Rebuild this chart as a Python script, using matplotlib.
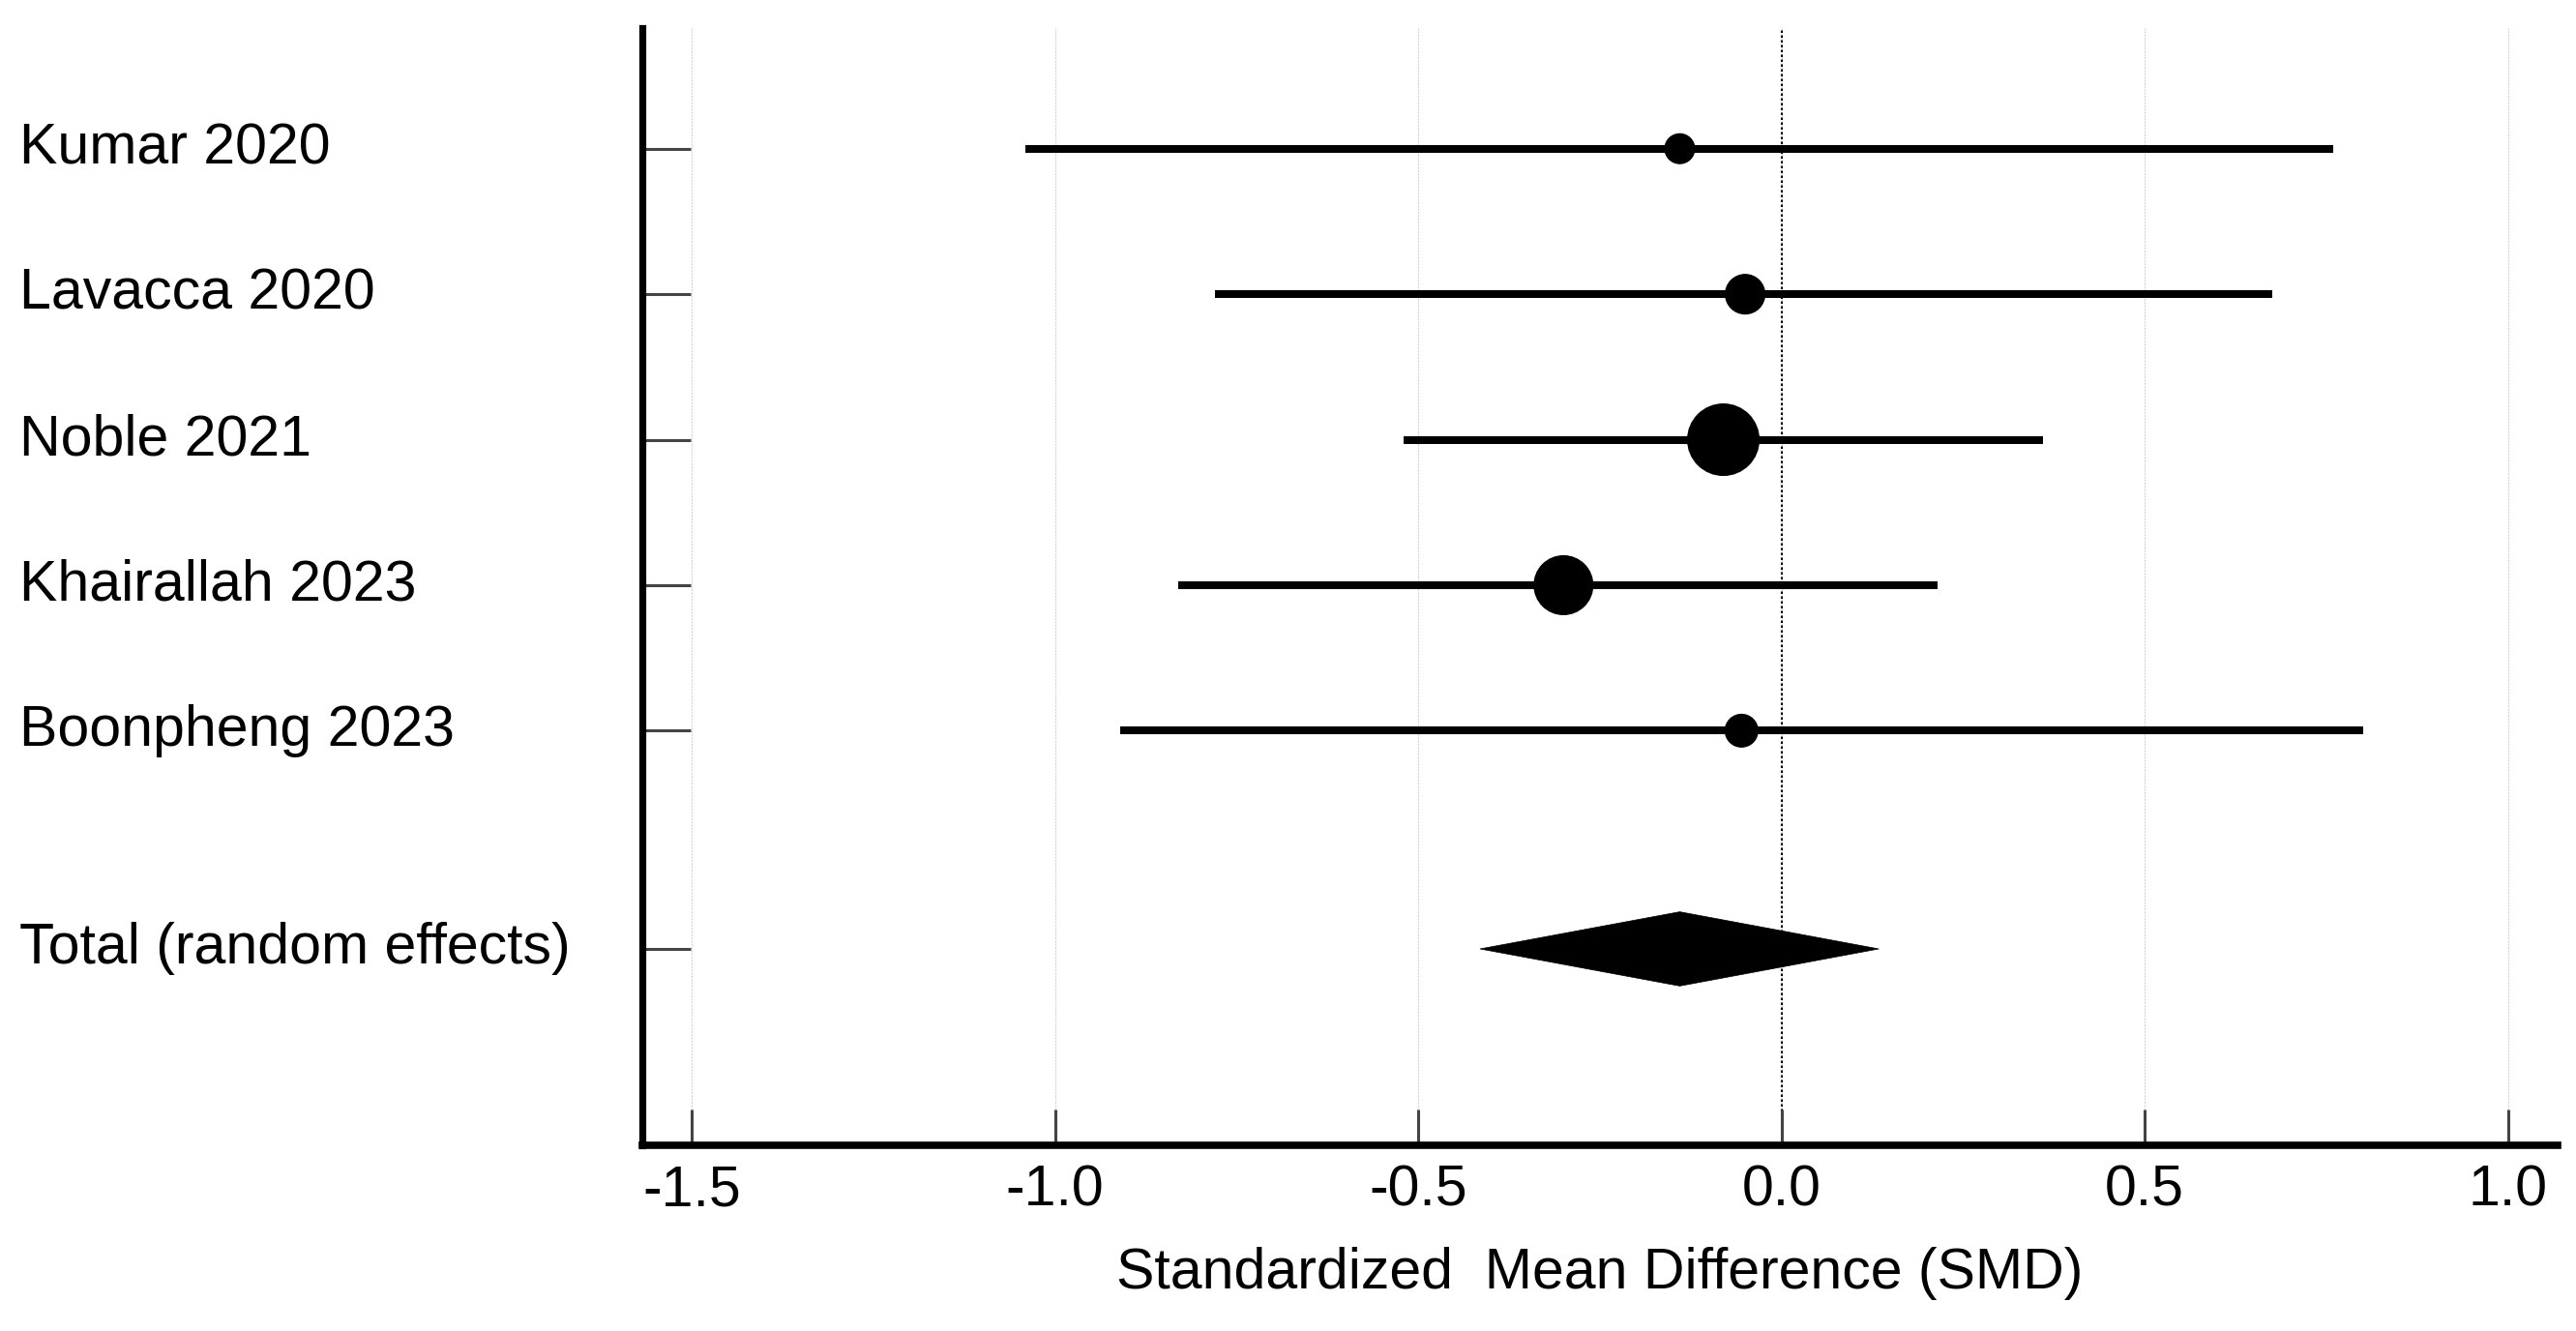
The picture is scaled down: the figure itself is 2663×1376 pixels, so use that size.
import numpy as np
import matplotlib
matplotlib.use("Agg")
import matplotlib.pyplot as plt
from matplotlib.patches import Polygon
from matplotlib.transforms import blended_transform_factory

plt.rcParams['font.family'] = ['Liberation Sans', 'DejaVu Sans']

# -----------------------------------------------------------
# Data
# -----------------------------------------------------------
studies = ['Kumar 2020', 'Lavacca 2020', 'Noble 2021', 'Khairallah 2023', 'Boonpheng 2023']
smd = [-0.14, -0.05, -0.08, -0.30, -0.055]
ci_low = [-1.04, -0.78, -0.52, -0.83, -0.91]
ci_high = [0.76, 0.675, 0.36, 0.215, 0.80]
weights = [7.6, 13.1, 41.7, 28.5, 9.1]   # % weight, drives marker area

total_label = 'Total (random effects)'
total_smd = -0.14
total_low = -0.415
total_high = 0.134

xticks = [-1.5, -1.0, -0.5, 0.0, 0.5, 1.0]
xlabel = 'Standardized  Mean Difference (SMD)'

# row positions: studies top-down, total a row and a half below
ys = np.arange(len(studies), 0, -1)
y_total = -0.5

fig = plt.figure(figsize=(26.63, 13.76), dpi=100)
ax = fig.add_axes([0.2493, 0.1395, 0.7435, 0.8395])

ax.set_xlim(-1.568, 1.068)
ax.set_ylim(-1.85, 5.83)

# grid and zero line
for xt in xticks:
    ax.axvline(xt, color='#d4d4d4', lw=0.8, ls=(0, (2, 1)), zorder=0)
ax.axvline(0, color='black', lw=1.5, ls=(0, (1.2, 1.2)), zorder=1)

# study CIs and point estimates
ax.hlines(ys, ci_low, ci_high, color='black', lw=5.8, zorder=2)
ax.scatter(smd, ys, s=np.array(weights) * 70, color='black', zorder=3, linewidths=0)

# pooled diamond
h = 0.255
diamond = Polygon([[total_low, y_total], [total_smd, y_total + h],
                   [total_high, y_total], [total_smd, y_total - h]],
                  closed=True, facecolor='black', edgecolor='black', lw=0.5, zorder=3)
ax.add_patch(diamond)

# axes styling
for side in ['top', 'right']:
    ax.spines[side].set_visible(False)
ax.spines['left'].set_linewidth(5.2)
ax.spines['bottom'].set_linewidth(5.5)

ax.set_yticks(list(ys) + [y_total])
ax.set_yticklabels([])
ax.tick_params(axis='y', direction='in', length=36, width=2.2, color='#444444')

ax.set_xticks(xticks)
ax.set_xticklabels([f'{v:.1f}' for v in xticks])
ax.tick_params(axis='x', direction='in', length=27, width=2.2, color='#444444',
               labelsize=42.5, pad=14)

ax.set_xlabel(xlabel, fontsize=42.5, labelpad=22)

# row labels at the far left of the figure
trans = blended_transform_factory(fig.transFigure, ax.transData)
for name, y in zip(studies + [total_label], list(ys) + [y_total]):
    ax.text(0.0075, y, name, transform=trans, ha='left', va='center', fontsize=42.5)

fig.savefig('out.png', dpi=100, facecolor='white')
